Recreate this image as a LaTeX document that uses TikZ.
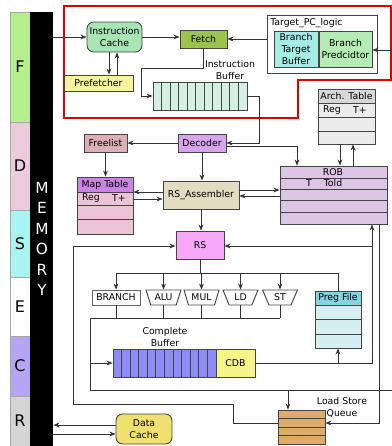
\documentclass[tikz,border=0pt]{standalone}
\usepackage{fontspec}
\setmainfont{DejaVu Sans}
\usetikzlibrary{arrows.meta,shapes.geometric}

\definecolor{edgec}{HTML}{444444}
\definecolor{wirec}{HTML}{333333}
\definecolor{stF}{HTML}{B4F08C}
\definecolor{stD}{HTML}{ECCCDC}
\definecolor{stS}{HTML}{A8F4F0}
\definecolor{stC}{HTML}{B8A4F4}
\definecolor{stR}{HTML}{D4D4D4}
\definecolor{icachec}{HTML}{A8E4B4}
\definecolor{fetchc}{HTML}{9CC44C}
\definecolor{btbc}{HTML}{A4ECE4}
\definecolor{bpc}{HTML}{B4ECB4}
\definecolor{prefc}{HTML}{F4F4A0}
\definecolor{ibufc}{HTML}{D4F0E4}
\definecolor{decc}{HTML}{D8A4EC}
\definecolor{flc}{HTML}{DCB0B4}
\definecolor{mthead}{HTML}{CC84E4}
\definecolor{mtrow}{HTML}{ECC4D8}
\definecolor{rsac}{HTML}{E4DCC0}
\definecolor{robc}{HTML}{DCC4E4}
\definecolor{archhead}{HTML}{D8D8D8}
\definecolor{archrow}{HTML}{ECECEC}
\definecolor{rsc}{HTML}{F8A8F8}
\definecolor{preghead}{HTML}{84D4E4}
\definecolor{pregrow}{HTML}{D4EEF4}
\definecolor{cbufc}{HTML}{8C8CF4}
\definecolor{cdbc}{HTML}{F4F488}
\definecolor{lsqc}{HTML}{DCAC68}
\definecolor{dcachec}{HTML}{F0E070}
\definecolor{fetchred}{HTML}{E00000}

% box from corner (x1,y1) to (x2,y2), in pixel units
\newcommand\placebox[7][]{%
  \node[box,#1,minimum width={(#5-#3)*0.75pt},minimum height={(#6-#4)*0.75pt}]
    (#2) at ({(#3+#5)/2},{(#4+#6)/2}) {#7};}

\begin{document}
\begin{tikzpicture}[x=0.75pt,y=-0.75pt,
  font=\fontsize{7}{9}\selectfont,
  box/.style={draw=edgec, line width=0.7pt, inner sep=0pt, align=center},
  wire/.style={draw=wirec, line width=0.7pt},
  arr/.style={wire, -{Stealth[length=4.5pt,width=3.6pt]}},
  stage/.style={draw=gray!70, font=\fontsize{12}{14}\selectfont},
  unit/.style={draw=edgec, fill=white, line width=0.7pt, trapezium,
    shape border rotate=180, trapezium stretches=true, trapezium angle=64,
    minimum width=26.25pt, minimum height=11.25pt, inner sep=0pt},
  rowline/.style={draw=edgec, line width=0.7pt}
]
\useasboundingbox (0,0) rectangle (392,446);

% ---------- pipeline stages and memory ----------
\placebox[stage, fill=stF]{sF}{10}{12}{30}{122}{F}
\placebox[stage, fill=stD]{sD}{10}{122}{30}{210}{D}
\placebox[stage, fill=stS]{sS}{10}{210}{30}{277}{S}
\placebox[stage, fill=white]{sE}{10}{277}{30}{336}{E}
\placebox[stage, fill=stC]{sC}{10}{336}{30}{396}{C}
\placebox[stage, fill=stR]{sR}{10}{396}{30}{446}{R}
\placebox[draw=none, fill=black]{mem}{30}{12}{53}{446}{}
\node[text=white, align=center, font=\fontsize{11.5}{15.4}\selectfont] (memlbl) at (42,239) {M\\E\\M\\O\\R\\Y};

% ---------- fetch region ----------
\draw[fetchred, line width=0.8pt] (64,6) -- (391,6) -- (391,80) -- (298,80) -- (298,118) -- (64,118) -- cycle;

\placebox[fill=icachec, rounded corners=5pt]{ic}{87}{22}{142}{52}{Instruction\\Cache}
\placebox[fill=fetchc]{fetch}{180}{30}{227}{48}{Fetch}
\placebox[fill=white]{tpc}{267}{15}{377}{73}{}
\node[anchor=west, inner sep=0pt] (tpclbl) at (270,23) {Target\_PC\_logic};
\placebox[fill=btbc]{btb}{274}{31}{318}{67}{Branch\\Target\\Buffer}
\placebox[fill=bpc]{bp}{319}{31}{372}{67}{Branch\\Predcidtor}
\placebox[fill=prefc]{pf}{64}{75}{133}{91}{Prefetcher}

\placebox[fill=ibufc]{ib}{153}{82}{247}{110}{}
\foreach \i in {1,...,10} \draw[rowline] ({153+\i*94/11},82) -- ({153+\i*94/11},110);
\node[align=center, inner sep=0pt] (iblbl) at (230,70) {Instruction\\Buffer};

% ---------- decode / rename ----------
\placebox[fill=decc]{dec}{178}{134}{226}{152}{Decoder}
\placebox[fill=flc]{fl}{84}{134}{127}{152}{Freelist}

\placebox[fill=mtrow]{mt}{77}{177}{133}{234}{}
\filldraw[fill=mthead, rowline] (77,177) rectangle (133,192);
\foreach \y in {205,219} \draw[rowline] (77,\y) -- (133,\y);
\node (mthd) at (105,184.5) {Map Table};
\node (mtreg) at (91,198.5) {Reg};
\node (mttp) at (119,198.5) {T+};

\placebox[fill=rsac]{rsa}{163}{181}{239}{209}{RS\_Assembler}

\placebox[fill=robc]{rob}{280}{166}{387}{224}{}
\foreach \y in {178,189,200,212} \draw[rowline] (280,\y) -- (387,\y);
\node (robhd) at (333,172) {ROB};
\node (robt) at (309,183.5) {T};
\node (robto) at (333,183.5) {Told};

\placebox[fill=archrow]{arch}{318}{89}{375}{144}{}
\filldraw[fill=archhead, rowline] (318,89) rectangle (375,103);
\foreach \y in {117,131} \draw[rowline] (318,\y) -- (375,\y);
\node (archhd) at (346.5,96) {Arch. Table};
\node (archreg) at (332,110) {Reg};
\node (archtp) at (360,110) {T+};

% ---------- issue / execute ----------
\placebox[fill=rsc]{rs}{176}{231}{224}{259}{RS}

\placebox[draw=gray!80!black, fill=white]{br}{92}{290}{140}{305}{BRANCH}
\node[unit] (alu) at (163.5,297.5) {ALU};
\node[unit] (mul) at (201.5,297.5) {MUL};
\node[unit] (ld)  at (240.5,297.5) {LD};
\node[unit] (st)  at (280,297.5) {ST};

\placebox[fill=pregrow]{preg}{315}{291}{361}{348}{}
\filldraw[fill=preghead, rowline] (315,291) rectangle (361,305);
\foreach \y in {319,334} \draw[rowline] (315,\y) -- (361,\y);
\node (preghd) at (338,298) {Preg File};

% ---------- complete / retire ----------
\placebox[fill=cbufc]{cb}{113}{349}{216}{377}{}
\foreach \i in {1,...,11} \draw[rowline] ({113+\i*103/12},349) -- ({113+\i*103/12},377);
\placebox[fill=cdbc]{cdb}{216}{349}{255}{377}{CDB}
\node[align=center, inner sep=0pt] (cblbl) at (165,337.5) {Complete\\Buffer};

\placebox[fill=lsqc]{lsq}{278}{410}{325}{444}{}
\foreach \y in {418.5,427,435.5} \draw[rowline] (278,\y) -- (325,\y);
\node[align=center, inner sep=0pt] (lsqlbl) at (342,407.5) {Load Store\\Queue};

\placebox[fill=dcachec, rounded corners=5pt]{dc}{116}{414}{172}{444}{Data\\Cache}

% ---------- fetch connections ----------
\draw[arr] (mem.east |- ic.west) -- (ic.west);
\draw[arr] (ic.east) -- (ic.east -| fetch.west);
\draw[arr] (tpc.west |- fetch.east) -- (fetch.east);
\coordinate (bpin) at (392,50);
\draw[arr] (bpin) -- (bpin -| bp.east);
\draw[arr] (ic.south -| 109,0) -- (pf.north -| 109,0);
\draw[arr] (pf.north -| 117,0) -- (ic.south -| 117,0);
\draw[arr] (fetch.south) |- (141,68) |- (ib.west);
\draw[arr] (ib.east) -| (dec.east -| 259,0) -- (dec.east);

% ---------- decode / rename connections ----------
\draw[arr] (dec.west) -- (fl.east);
\draw[arr] (fl.south) -- (fl.south |- mt.north);
\draw[arr] (rsa.west |- 0,192) -- (mt.east |- 0,192);
\draw[arr] (mt.east |- 0,199) -- (rsa.west |- 0,199);
\draw[arr] (dec.south) -- (dec.south |- rsa.north);
\draw[arr] (dec.east |- 0,146) -| (rob.north -| 297,0);
\draw[arr] (rsa.east |- 0,190) -- (rob.west |- 0,190);
\draw[arr] (rob.west |- 0,196) -- (rsa.east |- 0,196);
\draw[arr] (arch.south -| 340,0) -- (rob.north -| 340,0);
\draw[arr] (rob.north -| 353,0) -- (arch.south -| 353,0);
\draw[arr] (rsa.south) -- (rsa.south |- rs.north);

% ---------- issue bus ----------
\coordinate (ibus) at (0,273);
\draw[wire] (rs.south) -- (rs.south |- ibus);
\draw[wire] (br.north |- ibus) -- (preg.north |- ibus) -- (preg.north);
\foreach \u in {br,alu,mul,ld,st} \draw[arr] (\u.north |- ibus) -- (\u.north);

% ---------- result bus ----------
\coordinate (obL) at (90,318);
\foreach \u in {br,alu,mul,ld,st} \draw[wire] (\u.south) -- (\u.south |- obL);
\coordinate (obB) at (90,390);
\draw[wire] (st.south |- obL) -- (obL) -- (obB) -- (392,390);
\draw[arr] (obL |- cb.west) -- (cb.west);
\draw[arr] (lsq.north -| 288,0) ++(0,-20) -- (lsq.north -| 288,0);

% ---------- CDB broadcast ----------
\draw[arr] (cdb.east) -| (rob.south -| 372,0);
\draw[arr] (cdb.east -| preg.south) -- (preg.south);
\coordinate (rsj) at (372,246);
\draw[arr] (rsj) -- (rs.east |- rsj);
\draw[arr] (rob.south -| 379,0) |- (lsq.east |- 0,423);
\draw[arr] (lsq.west |- 0,423) -| (233,404) -| (73,246) -- (rs.west |- 0,246);

% ---------- data cache ----------
\draw[arr] (dc.west |- 0,425) -- (mem.east |- 0,425);
\draw[arr] (mem.east |- 0,434) -- (dc.west |- 0,434);
\end{tikzpicture}
\end{document}
